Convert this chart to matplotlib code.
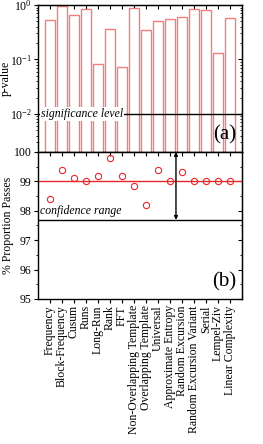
import numpy as np
import matplotlib
matplotlib.use('Agg')
import matplotlib.pyplot as plt

plt.rcParams['font.family'] = ['Liberation Serif', 'DejaVu Serif']
plt.rcParams['mathtext.fontset'] = 'stix'

# NIST test names and results
tests = ['Frequency', 'Block-Frequency', 'Cusum', 'Runs', 'Long-Run', 'Rank', 'FFT',
         'Non-Overlapping Template', 'Overlapping Template', 'Universal',
         'Approximate Entropy', 'Random Excursion', 'Random Excursion Variant',
         'Serial', 'Lempel-Ziv', 'Linear Complexity']
p_values = [0.54, 0.97, 0.65, 0.83, 0.082, 0.37, 0.073, 0.90, 0.35, 0.51,
            0.56, 0.60, 0.83, 0.80, 0.13, 0.57]
proportions = [98.4, 99.4, 99.1, 99.0, 99.2, 99.8, 99.2, 98.85, 98.2, 99.4,
               99.0, 99.33, 99.02, 99.0, 99.0, 99.0]
significance = 0.01
expected = 99.0
conf_low = 97.69

x = np.arange(1, len(tests) + 1)
bar_col = '#f47c7c'
red = '#e8262a'

fig = plt.figure(figsize=(2.63, 4.44), dpi=100)
ax1 = fig.add_axes([0.1445, 0.6577, 0.7755, 0.331])
ax2 = fig.add_axes([0.1445, 0.3266, 0.7755, 0.3311])

# (a) p-values
ax1.bar(x, np.array(p_values) - 1e-4, bottom=1e-4, width=0.82, facecolor='white',
        edgecolor=bar_col, linewidth=1.0)
ax1.set_yscale('log')
ax1.set_ylim(2e-3, 1)
ax1.set_xlim(0, len(tests) + 1)
ax1.axhline(significance, color='black', lw=1.0)
ax1.text(0.25, significance, 'significance level', style='italic', fontsize=8.5,
         va='center', ha='left', bbox=dict(facecolor='white', edgecolor='none', pad=0.5))
ax1.text(0.97, 0.05, '(a)', transform=ax1.transAxes, fontsize=15, ha='right', va='bottom')
ax1.set_ylabel('p-value', fontsize=8.5)
ax1.yaxis.set_label_coords(-0.128, 0.5)
ax1.set_xticks([])

# (b) proportions
ax2.plot(x, proportions, 'o', mfc='none', mec=red, ms=4.5, mew=0.8)
ax2.axhline(expected, color=red, lw=1.0)
ax2.axhline(conf_low, color='black', lw=1.0)
ax2.annotate('', xy=(11.5, conf_low), xytext=(11.5, 100.0),
             arrowprops=dict(arrowstyle='<|-|>', color='black', lw=1.0,
                             mutation_scale=5, shrinkA=0, shrinkB=0))
ax2.text(0.2, 97.98, 'confidence range', style='italic', fontsize=8.5, va='center')
ax2.text(0.97, 0.05, '(b)', transform=ax2.transAxes, fontsize=15, ha='right', va='bottom')
ax2.set_ylim(95, 100)
ax2.set_xlim(0, len(tests) + 1)
ax2.set_yticks([95, 96, 97, 98, 99, 100])
ax2.set_yticks(np.arange(95, 100, 0.5), minor=True)
ax2.set_xticks(x)
ax2.set_xticklabels(tests, rotation=90, fontsize=8.5)
ax2.set_ylabel('% Proportion Passes', fontsize=8.5)
ax2.yaxis.set_label_coords(-0.118, 0.5)

for ax in (ax1, ax2):
    ax.tick_params(which='both', direction='out', labelsize=8.5, pad=1.5)
    ax.tick_params(which='major', length=3, width=0.8)
    ax.tick_params(which='minor', length=1.8, width=0.6)
    for s in ax.spines.values():
        s.set_linewidth(1.0)
    # inward mirrored ticks on top and right
    sy = ax.secondary_yaxis('right')
    if ax is ax2:
        sy.set_yticks([95, 96, 97, 98, 99, 100])
        sy.set_yticks(np.arange(95, 100, 0.5), minor=True)
    sy.tick_params(which='both', direction='in', labelright=False)
    sy.tick_params(which='major', length=3, width=0.8)
    sy.tick_params(which='minor', length=1.8, width=0.6)
    sx = ax.secondary_xaxis('top')
    sx.set_xticks(x)
    sx.tick_params(direction='in', labeltop=False, length=3, width=0.8)

fig.savefig('out.png', dpi=100)
